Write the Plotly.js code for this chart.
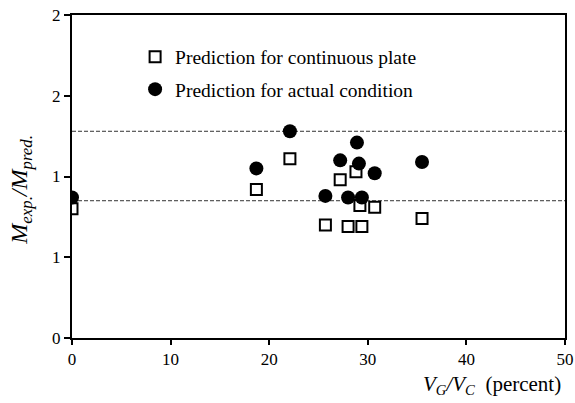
<!DOCTYPE html>
<html>
<head>
<meta charset="utf-8">
<script src="https://cdn.plot.ly/plotly-3.0.1.min.js"></script>
<style>html,body{margin:0;padding:0;background:#fff;}#chart{width:575px;height:403px;}</style>
</head>
<body>
<div id="chart"></div>
<script>
// Prediction for continuous plate (open squares)
const contX = [0, 18.7, 22.1, 25.7, 27.2, 28.0, 28.8, 29.2, 29.4, 30.7, 35.5];
const contY = [0.80, 0.92, 1.11, 0.70, 0.98, 0.69, 1.03, 0.82, 0.69, 0.81, 0.74];
// Prediction for actual condition (filled circles)
const actX = [0, 18.7, 22.1, 25.7, 27.2, 28.0, 28.9, 29.1, 29.4, 30.7, 35.5];
const actY = [0.87, 1.05, 1.28, 0.88, 1.10, 0.87, 1.21, 1.08, 0.87, 1.02, 1.09];
// dashed reference lines
const refLines = [1.28, 0.85];
// tick labels
const yTickVals = [0, 0.5, 1, 1.5, 2];
const yTickText = ["0", "1", "1", "2", "2"];
const xTickVals = [0, 10, 20, 30, 40, 50];
const xTickText = ["0", "10", "20", "30", "40", "50"];

const serif = "Liberation Serif";

const traces = [
  {x: contX, y: contY, type: 'scatter', mode: 'markers', name: 'Prediction for continuous plate',
   legendgroup: 'a',
   marker: {symbol: 'square-open', size: 11, color: '#000', line: {width: 2, color: '#000'}}},
  {x: actX, y: actY, type: 'scatter', mode: 'markers', name: 'Prediction for actual condition',
   legendgroup: 'b',
   marker: {symbol: 'circle', size: 14, color: '#000'}}
];

const shapes = refLines.map(v => ({
  type: 'line', xref: 'paper', x0: 0, x1: 1, yref: 'y', y0: v, y1: v,
  line: {color: '#333', width: 1, dash: '4px,2px'}, layer: 'below'
}));

const layout = {
  width: 575, height: 403,
  margin: {l: 72, r: 10, t: 15, b: 65},
  paper_bgcolor: '#fff', plot_bgcolor: '#fff',
  font: {family: serif, color: '#000', size: 16},
  showlegend: true,
  legend: {x: 0.128, y: 0.93, xanchor: 'left', yanchor: 'top', bgcolor: 'rgba(0,0,0,0)',
           font: {family: serif, size: 19.5, color: '#000'}, traceorder: 'grouped', tracegroupgap: 4,
           itemwidth: 30},
  xaxis: {range: [0, 50], tickvals: xTickVals, ticktext: xTickText, showgrid: false, zeroline: false,
          showline: true, linewidth: 2, linecolor: '#000', mirror: true,
          ticks: 'outside', ticklen: 5, tickwidth: 2, tickcolor: '#000',
          tickfont: {family: serif, size: 17}},
  yaxis: {range: [0, 2], tickvals: yTickVals, ticktext: yTickText, showgrid: false, zeroline: false,
          showline: true, linewidth: 2, linecolor: '#000', mirror: true,
          ticks: 'outside', ticklen: 6, tickwidth: 2, tickcolor: '#000',
          tickfont: {family: serif, size: 17}},
  shapes: shapes,
  annotations: [{
    xref: 'paper', yref: 'paper', x: 0.995, y: -0.1, xanchor: 'right', yanchor: 'top',
    text: '<i>V</i><sub><i>G</i></sub><i>/V</i><sub><i>C</i></sub>&nbsp;&nbsp;(percent)',
    showarrow: false, font: {family: serif, size: 21, color: '#000'}
  }, {
    xref: 'paper', yref: 'paper', x: -0.103, y: 0.46, xanchor: 'center', yanchor: 'middle',
    textangle: -90,
    text: '<i>M</i><sub><i>exp.</i></sub><i>/M</i><sub><i>pred.</i></sub>',
    showarrow: false, font: {family: serif, size: 24, color: '#000'}
  }]
};

Plotly.newPlot('chart', traces, layout, {displayModeBar: false, staticPlot: true});
</script>
</body>
</html>
